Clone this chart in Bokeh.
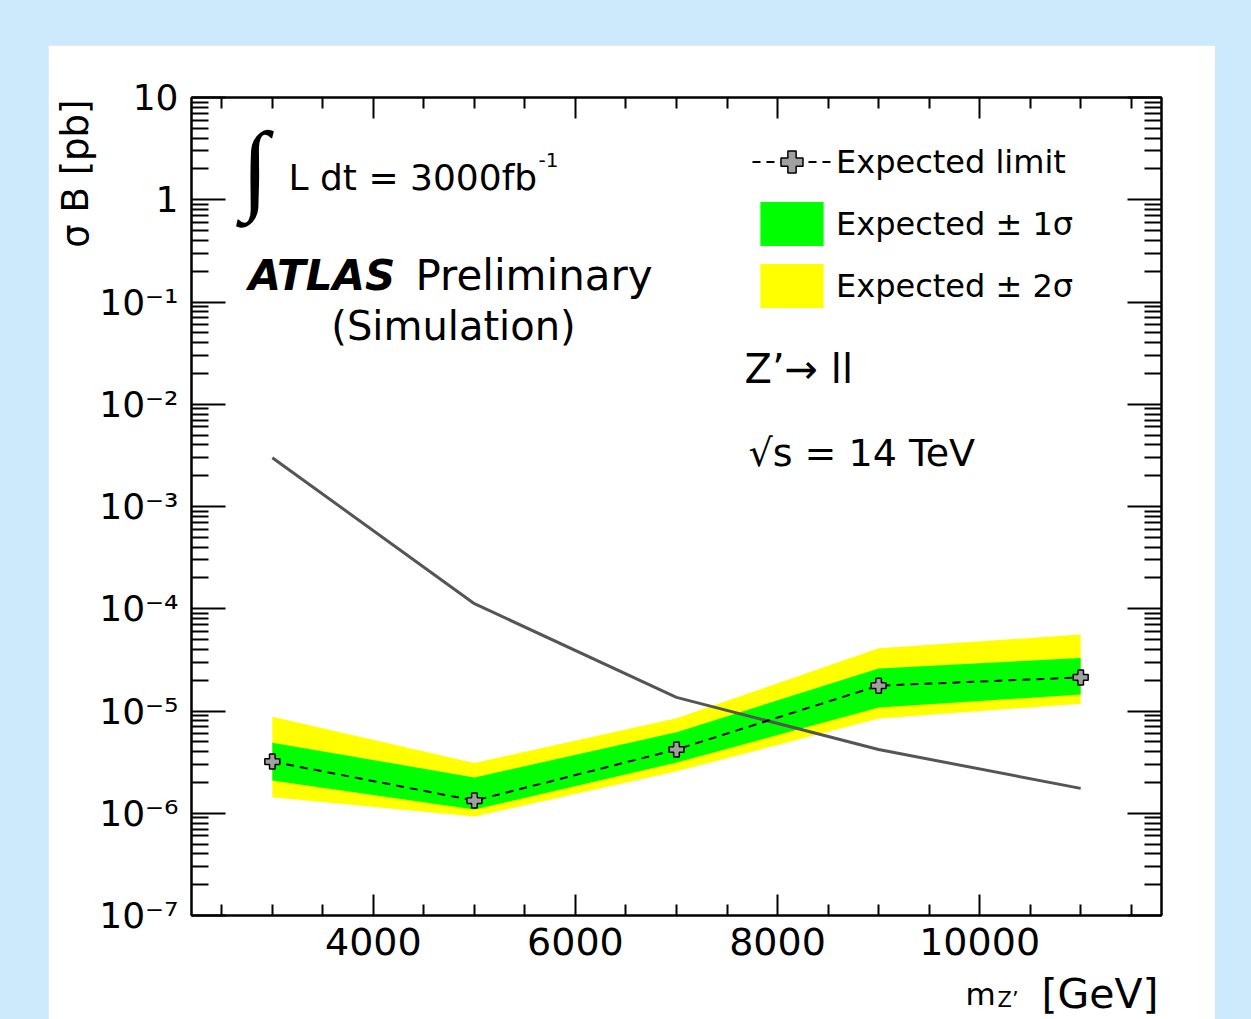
from bokeh.plotting import figure
from bokeh.models import (Range1d, FixedTicker, LinearAxis, LogAxis, Label, Title,
                          Legend, LegendItem, CustomJSTickFormatter)
from bokeh.layouts import column
from bokeh.embed import file_html
from bokeh.resources import INLINE

# ---------------- data ----------------
mass = [3000, 5000, 7000, 9000, 11000]
expected = [3.2e-6, 1.33e-6, 4.2e-6, 1.77e-5, 2.13e-5]
one_sigma_lo = [2.09e-6, 1.09e-6, 3.13e-6, 1.08e-5, 1.45e-5]
one_sigma_hi = [4.9e-6, 2.24e-6, 6.2e-6, 2.6e-5, 3.3e-5]
two_sigma_lo = [1.43e-6, 9.3e-7, 2.57e-6, 8.45e-6, 1.18e-5]
two_sigma_hi = [8.8e-6, 3.1e-6, 8.5e-6, 4.1e-5, 5.6e-5]
theory = [3.0e-3, 1.12e-4, 1.36e-5, 4.2e-6, 1.75e-6]

x_major = [4000, 6000, 8000, 10000]
x_minor = [2500, 3000, 3500, 4500, 5000, 5500, 6500, 7000, 7500, 8500, 9000,
           9500, 10500, 11000, 11500]
y_exponents = [-7, -6, -5, -4, -3, -2, -1, 0, 1]
y_tick_labels = ["10⁻⁷", "10⁻⁶", "10⁻⁵", "10⁻⁴", "10⁻³", "10⁻²", "10⁻¹", "1", "10"]
y_minor_mult = [2, 3, 4, 5, 6, 7, 8, 9]

legend_labels = ["Expected limit", "Expected ± 1σ", "Expected ± 2σ"]

FONT = "DejaVu Sans"
X0, X1 = 2200, 11800
Y0, Y1 = 1e-7, 10
BASE_FIX = 15  # empirical correction for alphabetic baseline

y_major = [10.0 ** e for e in y_exponents]
y_minor = [m * 10.0 ** e for e in y_exponents[:-1] for m in y_minor_mult]

p = figure(width=1167, height=974, x_range=Range1d(X0, X1), y_range=Range1d(Y0, Y1),
           y_axis_type="log", output_backend="svg", toolbar_location=None,
           min_border_left=143, min_border_right=54, min_border_top=52,
           min_border_bottom=104, background_fill_color="white",
           border_fill_color="white", outline_line_color="black",
           outline_line_width=2)
p.margin = (45, 36, 0, 48)
p.grid.visible = False

empty_fmt = CustomJSTickFormatter(code="return ''")
y_fmt = CustomJSTickFormatter(args=dict(labels=y_tick_labels, lo=y_exponents[0]),
                              code="return labels[Math.round(Math.log10(tick)) - lo];")


def style_axis(ax, ticks, minors, major_in, minor_in, fmt=None, standoff=12,
               size=38):
    ax.ticker = FixedTicker(ticks=ticks, minor_ticks=minors)
    ax.major_tick_in = major_in
    ax.major_tick_out = 0
    ax.minor_tick_in = minor_in
    ax.minor_tick_out = 0
    ax.axis_line_width = 2
    ax.axis_line_color = "black"
    ax.major_tick_line_width = 2
    ax.minor_tick_line_width = 2
    ax.major_tick_line_color = "black"
    ax.minor_tick_line_color = "black"
    if fmt is not empty_fmt:
        if fmt is not None:
            ax.formatter = fmt
        ax.major_label_text_font = FONT
        ax.major_label_text_font_size = f"{size}px"
        ax.major_label_text_color = "black"
        ax.major_label_standoff = standoff
    else:
        ax.formatter = empty_fmt
        ax.major_label_standoff = 0
        ax.major_label_text_font_size = "1px"


style_axis(p.xaxis[0], x_major, x_minor, 21, 11, standoff=12)
style_axis(p.yaxis[0], y_major, y_minor, 34, 17, fmt=y_fmt, standoff=13, size=36)
top_ax = LinearAxis()
style_axis(top_ax, x_major, x_minor, 21, 11, fmt=empty_fmt)
p.add_layout(top_ax, "above")
right_ax = LogAxis()
style_axis(right_ax, y_major, y_minor, 34, 17, fmt=empty_fmt)
p.add_layout(right_ax, "right")

# y axis title (top aligned, outside the axis labels)
p.add_layout(Title(text="σ B [pb]", align="right", text_font=FONT,
                   text_font_size="37px", text_font_style="normal",
                   text_color="black", standoff=0, offset=2), "left")

# ---------------- glyphs ----------------
r_2s = p.varea(x=mass, y1=two_sigma_lo, y2=two_sigma_hi, fill_color="#ffff00")
r_1s = p.varea(x=mass, y1=one_sigma_lo, y2=one_sigma_hi, fill_color="#00ff00")
r_th = p.line(mass, theory, line_color="#555555", line_width=3)
r_exp = p.line(mass, expected, line_color="black", line_width=2, line_dash="8 6")
r_mk = p.scatter(mass, expected, marker="plus", size=15, fill_color="#a0a0a0",
                 line_color="black", line_width=1.5)

legend = Legend(items=[LegendItem(label=legend_labels[0], renderers=[r_exp, r_mk]),
                       LegendItem(label=legend_labels[1], renderers=[r_1s]),
                       LegendItem(label=legend_labels[2], renderers=[r_2s])],
                location=(561, 602), orientation="vertical",
                glyph_width=79, glyph_height=55, label_height=55,
                label_standoff=5, spacing=7, padding=0, margin=0,
                border_line_color=None, background_fill_alpha=0,
                label_text_font=FONT, label_text_font_size="32px",
                label_text_color="black")
p.add_layout(legend)


# ---------------- texts ----------------
def add_text(x, y, text, dx, dy, size, align="left", baseline="alphabetic",
             style="normal", panel=None):
    if baseline == "alphabetic":
        dy = dy - BASE_FIX
    lab = Label(x=x, y=y, x_offset=dx, y_offset=-dy, text=text,
                text_font=FONT, text_font_size=f"{size}px",
                text_align=align, text_baseline=baseline,
                text_font_style=style, text_color="black")
    if panel is None:
        p.add_layout(lab)
    else:
        p.add_layout(lab, panel)


# x axis title (pieces spread over side panels that have spare room)
add_text(X1, Y0, "m", -196, 93, 31, panel="below")
add_text(X1, Y0, "Z’", -164, 99, 21, panel="right")
add_text(X1, Y0, "[GeV]", -3, 93, 41, align="right", panel="above")

# luminosity
add_text(X0, Y1, "∫", 76, 69, 100, align="center", baseline="middle")
add_text(X0, Y1, "L dt = 3000fb", 97, 95, 36)
add_text(X0, Y1, "-1", 347, 77, 20)

# ATLAS label
add_text(X0, Y1, "ATLAS", 57, 193, 42, style="bold italic")
add_text(X0, Y1, "Preliminary", 224, 193, 42)
add_text(X0, Y1, "(Simulation)", 262, 243, 40, align="center")

# process / energy
add_text(X0, Y1, "Z’→ ll", 553, 286, 40)
add_text(X0, Y1, "√s = 14 TeV", 557, 370, 38)

page = column(p, width=1251, height=1019,
              styles={"background-color": "#cceafc"})

open("out.html", "w").write(file_html(page, INLINE))
